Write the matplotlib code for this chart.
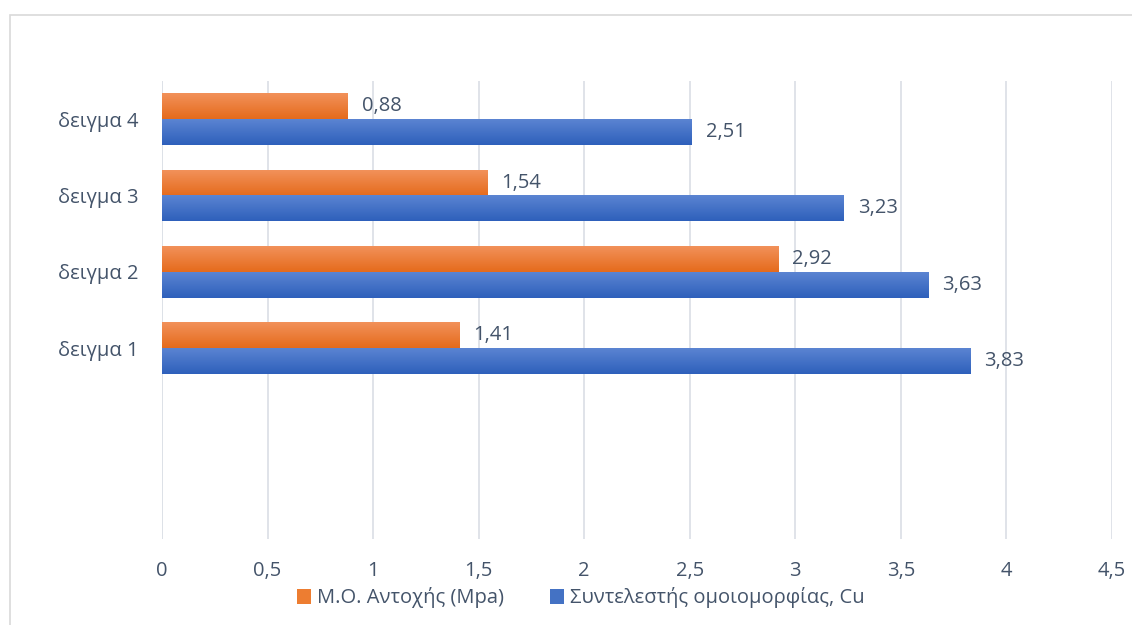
import matplotlib.pyplot as plt
from matplotlib.patches import Rectangle
import numpy as np

categories = ['δειγμα 1', 'δειγμα 2', 'δειγμα 3', 'δειγμα 4']
strength = [1.41, 2.92, 1.54, 0.88]      # Μ.Ο. Αντοχής (Mpa)
uniformity = [3.83, 3.63, 3.23, 2.51]    # Συντελεστής ομοιομορφίας, Cu
series_names = ['Μ.Ο. Αντοχής (Mpa)', 'Συντελεστής ομοιομορφίας, Cu']
xticks = [0, 0.5, 1, 1.5, 2, 2.5, 3, 3.5, 4, 4.5]

plt.rcParams['font.family'] = ['Open Sans', 'DejaVu Sans']
text_col = '#44546a'
grid_col = '#dde1e7'
fs = 14.5

fig = plt.figure(figsize=(11.32, 6.25), dpi=100)
ax = fig.add_axes([162/1132, 1 - 539/625, 950/1132, 458/625])

# two empty slots below the samples, as in the original
y = np.arange(len(categories)) + 2
h = 0.34
b_or = ax.barh(y + h/2, strength, height=h, color='#ed7d31', label=series_names[0], zorder=2)
b_bl = ax.barh(y - h/2, uniformity, height=h, color='#4472c4', label=series_names[1], zorder=2)


def shade(bars, top, bottom):
    # vertical gradient like the office chart style
    grad = np.linspace(0, 1, 64).reshape(-1, 1)
    c0 = np.array(plt.matplotlib.colors.to_rgb(top))
    c1 = np.array(plt.matplotlib.colors.to_rgb(bottom))
    img = c0[None, None, :] * (1 - grad[..., None]) + c1[None, None, :] * grad[..., None]
    for p in bars:
        x0, y0 = p.get_x(), p.get_y()
        w, hh = p.get_width(), p.get_height()
        ax.imshow(img, extent=(x0, x0 + w, y0, y0 + hh), origin='upper',
                  aspect='auto', zorder=2.5, interpolation='bilinear')


shade(b_or, '#f2915a', '#e56b1c')
shade(b_bl, '#5b84d2', '#2e60bb')

for bars, vals in ((b_or, strength), (b_bl, uniformity)):
    for p, v in zip(bars, vals):
        ax.annotate(('%.2f' % v).replace('.', ','),
                    (p.get_width(), p.get_y() + p.get_height()/2),
                    xytext=(10, 0), textcoords='offset points',
                    va='center', ha='left', fontsize=fs, color=text_col)

ax.set_xlim(0, 4.5)
ax.set_ylim(-0.5, len(categories) + 1.5)
ax.set_xticks(xticks)
ax.set_xticklabels([('%g' % t).replace('.', ',') for t in xticks])
ax.set_yticks(y)
ax.set_yticklabels(categories)
ax.tick_params(axis='both', length=0, labelsize=fs, labelcolor=text_col)
ax.tick_params(axis='x', pad=16)
ax.tick_params(axis='y', pad=17)
ax.grid(axis='x', color=grid_col, linewidth=1.3, zorder=0)
for s in ax.spines.values():
    s.set_visible(False)
ax.axvline(0, color=grid_col, linewidth=1.3, zorder=1)

fig.legend(handles=[b_or, b_bl], loc='center', bbox_to_anchor=(581/1132, 1 - 598/625),
           ncol=2, frameon=False, fontsize=14.5, labelcolor=text_col,
           handlelength=0.7, handleheight=0.7, handletextpad=0.3, columnspacing=2.3)

fig.patches.append(Rectangle((10/1132, -0.1), 1.2, 1 - 15/625 + 0.1,
                             transform=fig.transFigure, fill=False,
                             edgecolor='#d9d9d9', linewidth=1.2))

fig.savefig('out.png', dpi=100)
